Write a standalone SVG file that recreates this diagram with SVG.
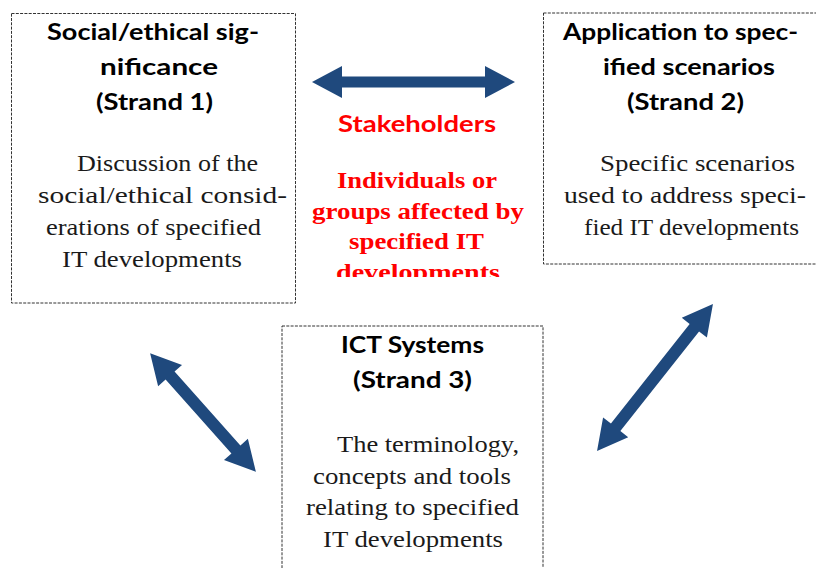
<svg xmlns="http://www.w3.org/2000/svg" width="816" height="568" viewBox="0 0 816 568">
<style>
.box{fill:#fff;stroke:#333;stroke-width:1;stroke-dasharray:3 1.3}
.h{font-family:Lato,"Open Sans","Liberation Sans",sans-serif;font-weight:bold;font-size:23px;fill:#000}
.b{font-family:"Liberation Serif","DejaVu Serif",serif;font-size:24px;fill:#1a1a1a}
.rh{font-family:Lato,"Open Sans","Liberation Sans",sans-serif;font-weight:bold;font-size:23px;fill:#ff0000}
.rb{font-family:"Liberation Serif","DejaVu Serif",serif;font-weight:bold;font-size:24px;fill:#ff0000}
.arrow{fill:#1f497d}
</style>
<defs>
<clipPath id="redclip"><rect x="280" y="100" width="280" height="177"/></clipPath>
</defs>
<rect width="816" height="568" fill="#fff"/>
<g id="strand1">
<rect class="box" x="11.5" y="13.5" width="284" height="289.5"/>
<text class="h" x="47" y="40" textLength="212" lengthAdjust="spacingAndGlyphs">Social/ethical sig-</text>
<text class="h" x="100" y="75" textLength="118" lengthAdjust="spacingAndGlyphs">nificance</text>
<text class="h" x="96" y="110" textLength="117" lengthAdjust="spacingAndGlyphs">(Strand 1)</text>
<text class="b" x="77" y="171" textLength="181" lengthAdjust="spacingAndGlyphs">Discussion of the</text>
<text class="b" x="38" y="203" textLength="249" lengthAdjust="spacingAndGlyphs">social/ethical consid-</text>
<text class="b" x="46" y="235" textLength="215" lengthAdjust="spacingAndGlyphs">erations of specified</text>
<text class="b" x="62" y="267" textLength="180" lengthAdjust="spacingAndGlyphs">IT developments</text>
</g>
<g id="strand2">
<rect class="box" x="543.5" y="13" width="290" height="251"/>
<text class="h" x="563" y="40" textLength="235" lengthAdjust="spacingAndGlyphs">Application to spec-</text>
<text class="h" x="603" y="75" textLength="172" lengthAdjust="spacingAndGlyphs">ified scenarios</text>
<text class="h" x="627" y="110" textLength="117" lengthAdjust="spacingAndGlyphs">(Strand 2)</text>
<text class="b" x="600" y="171" textLength="195" lengthAdjust="spacingAndGlyphs">Specific scenarios</text>
<text class="b" x="564" y="203" textLength="242" lengthAdjust="spacingAndGlyphs">used to address speci-</text>
<text class="b" x="584" y="235" textLength="215" lengthAdjust="spacingAndGlyphs">fied IT developments</text>
</g>
<g id="strand3">
<rect class="box" x="282" y="326" width="261" height="260"/>
<text class="h" x="341" y="353" textLength="143" lengthAdjust="spacingAndGlyphs">ICT Systems</text>
<text class="h" x="353" y="388" textLength="119" lengthAdjust="spacingAndGlyphs">(Strand 3)</text>
<text class="b" x="337" y="451.5" textLength="182" lengthAdjust="spacingAndGlyphs">The terminology,</text>
<text class="b" x="313" y="483.5" textLength="198" lengthAdjust="spacingAndGlyphs">concepts and tools</text>
<text class="b" x="306" y="515" textLength="213" lengthAdjust="spacingAndGlyphs">relating to specified</text>
<text class="b" x="323" y="546.5" textLength="180" lengthAdjust="spacingAndGlyphs">IT developments</text>
</g>
<g id="stakeholders">
<text class="rh" x="338" y="131.5" textLength="158" lengthAdjust="spacingAndGlyphs">Stakeholders</text>
<g clip-path="url(#redclip)">
<text class="rb" x="337" y="188" textLength="160" lengthAdjust="spacingAndGlyphs">Individuals or</text>
<text class="rb" x="312" y="218.5" textLength="212" lengthAdjust="spacingAndGlyphs">groups affected by</text>
<text class="rb" x="349" y="249" textLength="135" lengthAdjust="spacingAndGlyphs">specified IT</text>
<text class="rb" x="336" y="280" textLength="164" lengthAdjust="spacingAndGlyphs">developments</text>
</g>
</g>
<g id="connectors">
<polygon class="arrow" transform="translate(413.5,82)" points="-101.5,0 -71.5,-16 -71.5,-5.5 71.5,-5.5 71.5,-16 101.5,0 71.5,16 71.5,5.5 -71.5,5.5 -71.5,16"/>
<polygon class="arrow" transform="translate(203,412.5) rotate(48.3)" points="-79.5,0 -49.5,-16 -49.5,-6 49.5,-6 49.5,-16 79.5,0 49.5,16 49.5,6 -49.5,6 -49.5,16"/>
<polygon class="arrow" transform="translate(655,377.5) rotate(-51.7)" points="-93.5,0 -63.5,-16 -63.5,-6 63.5,-6 63.5,-16 93.5,0 63.5,16 63.5,6 -63.5,6 -63.5,16"/>
</g>
</svg>
